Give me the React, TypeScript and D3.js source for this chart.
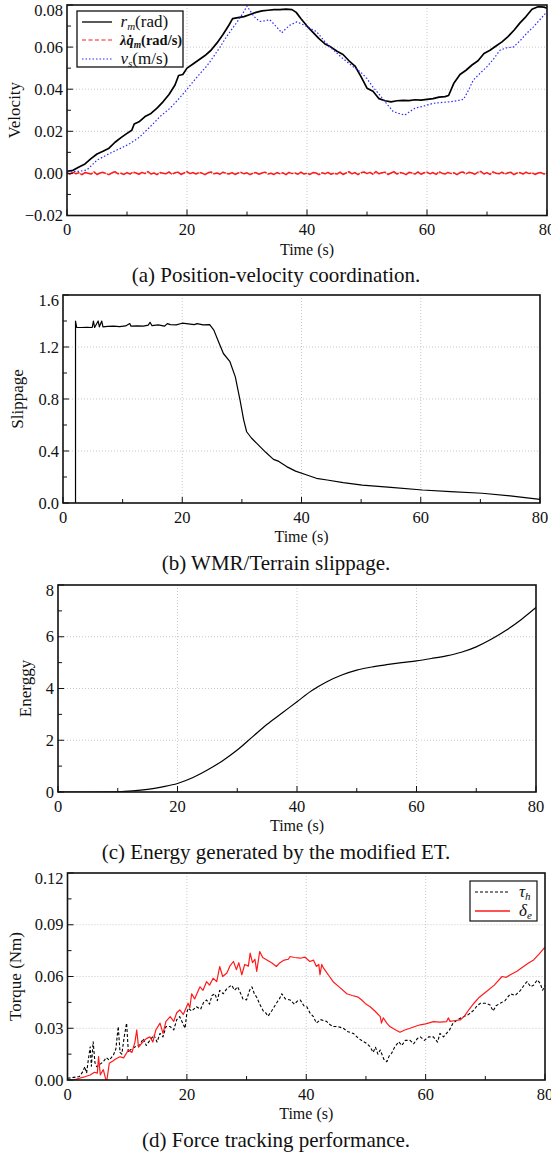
import React from "react";
import * as d3 from "d3";

const FONT = "'Liberation Serif', 'Times New Roman', serif";

// (a) position-velocity coordination, [time, value]
const rmData: [number, number][] = [
  [0, 0.001], [1, 0.0015], [2, 0.003], [3, 0.0045], [4, 0.007], [5, 0.0092], [6, 0.0105], [7, 0.012],
  [8, 0.0148], [9, 0.017], [10, 0.019], [10.8, 0.0205], [11.2, 0.0235], [12, 0.0245], [13, 0.027],
  [14, 0.0285], [15, 0.031], [16, 0.034], [17, 0.0375], [18, 0.042], [18.6, 0.0465], [19.3, 0.047],
  [20, 0.05], [21, 0.052], [22, 0.054], [23, 0.056], [24, 0.0585], [25, 0.062], [26, 0.066], [27, 0.0705],
  [27.6, 0.0735], [28.5, 0.074], [29.5, 0.0745], [30.5, 0.0755], [31.5, 0.0765], [32.5, 0.0772],
  [33.5, 0.0775], [34.5, 0.0778], [35.5, 0.0778], [36.5, 0.078], [37.5, 0.0778], [38.2, 0.0765],
  [39, 0.0735], [40, 0.07], [41, 0.067], [42, 0.064], [43, 0.0615], [44, 0.06], [45, 0.058], [46, 0.0565],
  [47, 0.0535], [48, 0.051], [49, 0.046], [50, 0.0405], [51, 0.039], [52, 0.0355], [53, 0.0345], [54, 0.034],
  [55, 0.0345], [56, 0.0347], [57, 0.0346], [58, 0.035], [59, 0.0348], [60, 0.0352], [61, 0.0355],
  [62, 0.0362], [63, 0.0365], [63.6, 0.037], [64.5, 0.043], [65.5, 0.047], [66.5, 0.049], [67.5, 0.0515],
  [68.5, 0.0535], [69.5, 0.057], [70.5, 0.0585], [71.5, 0.0605], [72.5, 0.0625], [73.5, 0.065],
  [74.5, 0.068], [75.5, 0.0715], [76.5, 0.0745], [77.5, 0.078], [78.5, 0.0792], [79.5, 0.079], [80, 0.0785],
];

const vsData: [number, number][] = [
  [0, 0.0008], [2, 0.001], [3.3, 0.0016], [4, 0.0035], [5, 0.0063], [6, 0.0078], [7, 0.0093], [8, 0.0107],
  [9, 0.012], [10.5, 0.0142], [12, 0.017], [13.3, 0.0206], [14.5, 0.024], [15.5, 0.027], [17.2, 0.031],
  [18.5, 0.035], [19.9, 0.0396], [21, 0.0435], [22.2, 0.0475], [23.3, 0.051], [24.4, 0.0554], [25.5, 0.06],
  [26.6, 0.065], [27.6, 0.069], [28.6, 0.0729], [29.4, 0.0765], [30, 0.0795], [30.8, 0.076], [31.5, 0.0735],
  [32.2, 0.0722], [33, 0.0725], [33.8, 0.073], [34.8, 0.07], [35.8, 0.0668], [36.5, 0.0688], [37.2, 0.0705],
  [38.3, 0.072], [39.5, 0.0705], [40.5, 0.069], [41.6, 0.0673], [43, 0.0625], [44.4, 0.0586], [46, 0.0545],
  [47.7, 0.0507], [49, 0.048], [50, 0.045], [51, 0.041], [52.2, 0.037], [53.3, 0.033], [54.4, 0.0293],
  [55.3, 0.0285], [56.3, 0.0277], [57.2, 0.0295], [58, 0.031], [59.5, 0.032], [61, 0.0333], [62.5, 0.0337],
  [63.8, 0.034], [65, 0.0345], [66.1, 0.0352], [67, 0.04], [67.7, 0.0443], [69, 0.048], [70, 0.0507],
  [71, 0.054], [72.2, 0.0586], [73.3, 0.0597], [74.4, 0.06], [75.5, 0.063], [76.6, 0.0665], [77.7, 0.0695],
  [78.8, 0.073], [80, 0.0768],
];

// sampled every 0.5 s
const qmValues = [
  0.0002, -0.0004, 0.0006, -0.0002, 0.0003, -0.0006, 0.0004, 0.0001, -0.0003, 0.0007,
  -0.0005, 0.0002, 0.0005, -0.0001, -0.0006, 0.0003, 0.0008, -0.0002, 0.0001, -0.0005,
  0.0004, -0.0003, 0.0006, 0.0002, -0.0004, 0.0005, -0.0001, 0.0009, -0.0003, 0.0002,
  -0.0006, 0.0004, 0.0001, -0.0002, 0.0007, -0.0004, 0.0003, 0.0006, -0.0005, 0.0002,
  0.0008, -0.0001, 0.0004, -0.0003, 0.0005, 0.0001, -0.0006, 0.0003, 0.0007, -0.0002,
  0.0002, -0.0004, 0.0006, 0.0, -0.0003, 0.0004, -0.0005, 0.0002, 0.0005, -0.0002,
  0.0003, -0.0006, 0.0001, 0.0004, -0.0004, 0.0002, 0.0006, -0.0003, 0.0001, -0.0005,
  0.0004, -0.0002, 0.0003, -0.0006, 0.0005, -0.0001, 0.0002, -0.0004, 0.0006, -0.0003,
  0.0001, -0.0005, 0.0004, 0.0002, -0.0006, 0.0003, -0.0002, 0.0005, -0.0004, 0.0001,
  -0.0003, 0.0006, -0.0005, 0.0002, 0.0008, -0.0002, 0.0004, -0.0006, 0.0003, 0.0007,
  -0.0001, 0.0005, -0.0004, 0.0009, -0.0002, 0.0003, 0.0006, -0.0005, 0.0002, 0.0008,
  -0.0003, 0.0004, 0.0001, -0.0006, 0.0005, 0.0002, -0.0003, 0.0007, -0.0004, 0.0003,
  0.0006, -0.0002, 0.0004, -0.0005, 0.0008, 0.0001, -0.0003, 0.0005, -0.0001, 0.0003,
  -0.0006, 0.0004, 0.0007, -0.0002, 0.0005, 0.0002, -0.0004, 0.0006, 0.0009, -0.0003,
  0.0004, -0.0005, 0.0007, 0.0001, -0.0002, 0.0006, -0.0004, 0.0003, 0.0005, -0.0006,
  0.0002, 0.0004, -0.0003, 0.0006, -0.0001, 0.0003, -0.0005, 0.0002, 0.0004, -0.0003,
  0.0001,
];
const qmData: [number, number][] = qmValues.map((v, i) => [i * 0.5, v]);

// (b) slippage
const slipData: [number, number][] = [
  [2.1, 0], [2.1, 1.4], [2.3, 1.35], [3, 1.35], [4, 1.352], [4.9, 1.35], [5.1, 1.4], [5.3, 1.35], [5.9, 1.4],
  [6.1, 1.355], [6.5, 1.4], [6.7, 1.355], [7.5, 1.358], [8.5, 1.36], [9.5, 1.357], [10.5, 1.362], [11.2, 1.38],
  [11.4, 1.36], [12.5, 1.363], [13.5, 1.36], [14.3, 1.368], [14.6, 1.39], [14.9, 1.365], [16, 1.37], [17, 1.36],
  [17.5, 1.38], [18, 1.372], [19, 1.37], [20, 1.383], [21, 1.378], [22, 1.372], [22.5, 1.38], [23.5, 1.37],
  [24.6, 1.372], [25.3, 1.33], [26, 1.25], [26.9, 1.15], [28, 1.087], [28.9, 0.97], [29.3, 0.88], [29.7, 0.79],
  [30.3, 0.64], [30.8, 0.548], [31.6, 0.5], [32.5, 0.459], [34, 0.39], [35.3, 0.336], [36.2, 0.32],
  [37.5, 0.28], [39, 0.245], [40.9, 0.215], [42.5, 0.19], [44.3, 0.177], [47, 0.157], [50.2, 0.138],
  [55, 0.12], [60.3, 0.1], [65, 0.088], [70.3, 0.075], [75, 0.055], [80, 0.028],
];

// (c) energy
const energyData: [number, number][] = [
  [0, 0], [5, 0], [10, 0.01], [12.5, 0.04], [15, 0.1], [17.5, 0.2], [20, 0.33], [22.5, 0.55], [25, 0.85],
  [27.5, 1.2], [30, 1.62], [32.5, 2.12], [35, 2.62], [37.5, 3.05], [40, 3.49], [42.5, 3.92], [45, 4.26],
  [47.5, 4.52], [50, 4.71], [52.5, 4.83], [55, 4.92], [57.5, 5.0], [60, 5.07], [62.5, 5.16], [65, 5.26],
  [67.5, 5.4], [70, 5.61], [72.5, 5.9], [75, 6.25], [77.5, 6.66], [80, 7.13],
];

// (d) force tracking
const deltaData: [number, number][] = [
  [0, 0], [1, 0], [2, 0.001], [3, 0.002], [3.8, 0.0029], [4.5, 0.0045], [5, 0.004], [5.2, 0.0135], [5.5, 0.003],
  [6, 0.006], [6.4, 0.0005], [6.6, 0], [7, 0.0097], [7.6, 0.011], [8.2, 0.0125], [8.8, 0.0135], [9.4, 0.0128],
  [10.2, 0.0174], [10.8, 0.016], [11.3, 0.022], [11.6, 0.029], [11.9, 0.019], [12.5, 0.0215], [13.2, 0.024],
  [13.8, 0.025], [14.3, 0.022], [14.8, 0.029], [15.5, 0.033], [16, 0.027], [16.5, 0.034], [17.2, 0.0367],
  [17.8, 0.034], [18.3, 0.039], [18.8, 0.0406], [19.4, 0.038], [20.2, 0.0445], [20.5, 0.042], [20.8, 0.05],
  [21.3, 0.047], [21.8, 0.051], [22.2, 0.054], [22.7, 0.052], [23.3, 0.057], [23.8, 0.055], [24.4, 0.059],
  [25, 0.057], [25.5, 0.0658], [26, 0.06], [26.7, 0.062], [27.2, 0.066], [27.8, 0.0687], [28.3, 0.064],
  [28.7, 0.068], [29.2, 0.061], [29.7, 0.067], [30.3, 0.066], [30.6, 0.0735], [31, 0.068], [31.4, 0.07],
  [31.7, 0.063], [32.2, 0.0745], [32.7, 0.071], [33.4, 0.0696], [34.2, 0.068], [35, 0.0658], [35.6, 0.068],
  [36.3, 0.0695], [37, 0.07], [37.3, 0.0716], [38, 0.071], [39, 0.0706], [39.8, 0.0712], [40.6, 0.0687],
  [41.2, 0.0695], [41.7, 0.0658], [42.1, 0.067], [42.3, 0.061], [42.6, 0.067], [42.9, 0.0648], [43.7, 0.061],
  [44.5, 0.057], [45.5, 0.054], [46.8, 0.05], [47.7, 0.049], [48.7, 0.048], [49.3, 0.0464], [50, 0.044],
  [50.7, 0.0425], [51.5, 0.04], [52.4, 0.0367], [52.6, 0.033], [52.9, 0.036], [53.5, 0.033], [54, 0.031],
  [55, 0.029], [55.7, 0.0277], [56.5, 0.029], [57.4, 0.03], [58.2, 0.031], [59.1, 0.032], [60, 0.0325],
  [61.3, 0.0338], [62.4, 0.0335], [63.5, 0.0338], [63.8, 0.036], [64.1, 0.034], [65, 0.0345], [65.8, 0.0348],
  [66.5, 0.037], [67.3, 0.041], [68.1, 0.0445], [69, 0.048], [70.2, 0.0513], [71.5, 0.055], [72.8, 0.06],
  [73.5, 0.0595], [74.2, 0.061], [75.3, 0.063], [76.4, 0.0658], [77.3, 0.068], [78.1, 0.0696], [79, 0.073],
  [80, 0.077],
];

const tauData: [number, number][] = [
  [0, 0.001], [1, 0.0015], [2, 0.002], [2.6, 0.005], [2.9, 0.0077], [3.2, 0.004], [3.5, 0.012], [3.8, 0.0193],
  [4, 0.008], [4.3, 0.0222], [4.6, 0.01], [4.9, 0.0077], [5.4, 0.009], [6, 0.0106], [6.5, 0.013], [7, 0.0115],
  [7.7, 0.0145], [8.1, 0.018], [8.5, 0.031], [8.8, 0.016], [9.1, 0.015], [9.5, 0.025], [9.9, 0.033],
  [10.2, 0.016], [10.5, 0.0174], [11.2, 0.019], [12.1, 0.0203], [12.7, 0.024], [13.2, 0.02], [13.8, 0.023],
  [14.5, 0.026], [15, 0.022], [15.5, 0.027], [16, 0.025], [16.5, 0.031], [17.2, 0.031], [17.8, 0.029], [18.3, 0.035],
  [18.8, 0.0367], [19.3, 0.033], [19.7, 0.03], [20, 0.039], [20.2, 0.0416], [20.8, 0.04], [21.6, 0.0425],
  [22.3, 0.041], [22.8, 0.045], [23.3, 0.0464], [23.8, 0.044], [24.2, 0.049], [24.7, 0.05], [25.1, 0.046], [25.5, 0.052],
  [26.1, 0.05], [26.7, 0.053], [27.5, 0.055], [28, 0.052], [28.5, 0.054], [28.9, 0.051], [29.4, 0.047],
  [30, 0.0464], [30.5, 0.052], [30.9, 0.054], [31.3, 0.05], [31.7, 0.048], [32.2, 0.044], [32.8, 0.04],
  [33.2, 0.039], [33.6, 0.037], [34.2, 0.04], [35, 0.0445], [35.5, 0.047], [35.9, 0.05], [36.5, 0.047],
  [37.3, 0.0464], [38, 0.044], [38.6, 0.046], [39, 0.0464], [39.6, 0.043], [40.1, 0.0425], [40.6, 0.039],
  [41.2, 0.0367], [41.7, 0.033], [42.4, 0.035], [43.4, 0.034], [44, 0.032], [44.5, 0.031], [45.3, 0.031],
  [46.2, 0.03], [47, 0.028], [47.9, 0.027], [48.8, 0.024], [49.6, 0.0222], [50.2, 0.021], [50.7, 0.0193],
  [51.2, 0.016], [51.6, 0.019], [52, 0.015], [52.4, 0.0174], [53, 0.012], [53.5, 0.0106], [53.9, 0.014],
  [54.3, 0.0155], [54.8, 0.019], [55.5, 0.0222], [56, 0.02], [56.6, 0.023], [57.4, 0.023], [58, 0.021],
  [58.6, 0.024], [59.1, 0.025], [59.8, 0.023], [60.5, 0.025], [61.3, 0.025], [62, 0.022], [62.4, 0.027],
  [63, 0.025], [63.5, 0.027], [64, 0.029], [64.6, 0.033], [65.4, 0.035], [66.3, 0.0367], [67.2, 0.038],
  [68.1, 0.0406], [68.6, 0.043], [69.2, 0.0445], [70, 0.0445], [70.8, 0.0435], [71.3, 0.04], [71.8, 0.043],
  [72.5, 0.0445], [73.3, 0.046], [74.2, 0.05], [75, 0.049], [75.9, 0.052], [76.5, 0.055], [77, 0.057],
  [77.6, 0.054], [78.1, 0.055], [78.7, 0.058], [79.2, 0.056], [79.6, 0.052], [80, 0.055],
];

const xMajor = [0, 20, 40, 60, 80];
const xMinor = [10, 30, 50, 70];

type Series = {
  data: [number, number][];
  color: string;
  width: number;
  dash?: string;
  curve?: d3.CurveFactory;
};

type PanelProps = {
  id: string;
  left: number;
  right: number;
  top: number;
  bottom: number;
  yDomain: [number, number];
  yMajor: number[];
  yMinor: number[];
  fmt: (v: number) => string;
  yLabel: string;
  yLabelX: number;
  caption: string;
  series: Series[];
  children?: React.ReactNode;
};

function Panel(p: PanelProps) {
  const x = d3.scaleLinear().domain([0, 80]).range([p.left, p.right]);
  const y = d3.scaleLinear().domain(p.yDomain).range([p.bottom, p.top]);
  const cy = (p.top + p.bottom) / 2;
  return (
    <g fontFamily={FONT} fill="#111">
      <defs>
        <clipPath id={"clip-" + p.id}>
          <rect x={p.left} y={p.top} width={p.right - p.left} height={p.bottom - p.top} />
        </clipPath>
      </defs>
      {/* grid */}
      {xMajor.slice(1, -1).map((t) => (
        <line key={"gx" + t} x1={x(t)} x2={x(t)} y1={p.top} y2={p.bottom} stroke="#c8c8c8" strokeDasharray="1,2" />
      ))}
      {p.yMajor.slice(1, -1).map((v) => (
        <line key={"gy" + v} x1={p.left} x2={p.right} y1={y(v)} y2={y(v)} stroke="#c8c8c8" strokeDasharray="1,2" />
      ))}
      {/* lines */}
      <g clipPath={`url(#clip-${p.id})`}>
        {p.series.map((s, i) => {
          const line = d3
            .line<[number, number]>()
            .x((d) => x(d[0]))
            .y((d) => y(d[1]))
            .curve(s.curve || d3.curveLinear);
          return (
            <path key={i} d={line(s.data) || ""} fill="none" stroke={s.color} strokeWidth={s.width}
              strokeDasharray={s.dash} strokeLinejoin="round" />
          );
        })}
      </g>
      {/* ticks */}
      {xMajor.map((t) => (
        <line key={"tx" + t} x1={x(t)} x2={x(t)} y1={p.bottom} y2={p.bottom - 6} stroke="#111" />
      ))}
      {xMinor.map((t) => (
        <line key={"mx" + t} x1={x(t)} x2={x(t)} y1={p.bottom} y2={p.bottom - 4} stroke="#111" />
      ))}
      {p.yMajor.map((v) => (
        <line key={"ty" + v} x1={p.left} x2={p.left + 6} y1={y(v)} y2={y(v)} stroke="#111" />
      ))}
      {p.yMinor.map((v) => (
        <line key={"my" + v} x1={p.left} x2={p.left + 4} y1={y(v)} y2={y(v)} stroke="#111" />
      ))}
      <rect x={p.left} y={p.top} width={p.right - p.left} height={p.bottom - p.top} fill="none" stroke="#111" strokeWidth={1.6} />
      {/* tick labels */}
      {xMajor.map((t) => (
        <text key={"lx" + t} x={x(t)} y={p.bottom + 19.5} textAnchor="middle" fontSize={16.5}>{t}</text>
      ))}
      {p.yMajor.map((v) => (
        <text key={"ly" + v} x={p.left - 4} y={Math.max(y(v) + 5.5, p.top + 11)} textAnchor="end" fontSize={16.5}>{p.fmt(v)}</text>
      ))}
      <text x={(p.left + p.right) / 2} y={p.bottom + 39} textAnchor="middle" fontSize={16}>Time (s)</text>
      <text transform={`translate(${p.yLabelX},${cy}) rotate(-90)`} textAnchor="middle" fontSize={17}>{p.yLabel}</text>
      <text x={276} y={p.bottom + 66.5} textAnchor="middle" fontSize={21}>{p.caption}</text>
      {p.children}
    </g>
  );
}

export default function App() {
  return (
    <svg width={551} height={1155} style={{ position: "absolute", left: 0, top: 0, background: "#fff" }}>
      <rect width={551} height={1155} fill="#fff" />
      <Panel id="a" left={67} right={547} top={5} bottom={215.5} yDomain={[-0.02, 0.08]}
        yMajor={[-0.02, 0, 0.02, 0.04, 0.06, 0.08]} yMinor={[-0.01, 0.01, 0.03, 0.05, 0.07]}
        fmt={d3.format(".2f")} yLabel="Velocity" yLabelX={20} caption="(a) Position-velocity coordination."
        series={[
          { data: rmData, color: "#000", width: 1.7 },
          { data: vsData, color: "#2b2bff", width: 1.2, dash: "1.5,2" },
          { data: qmData, color: "#ff1a1a", width: 1.5, dash: "14,1" },
        ]}>
        <g fontFamily={FONT}>
          <rect x={77} y={11} width={106} height={56} fill="#fff" stroke="#111" strokeWidth={1.3} />
          <line x1={82} x2={112} y1={22} y2={22} stroke="#000" strokeWidth={1.3} />
          <line x1={82} x2={112} y1={40} y2={40} stroke="#ff1a1a" strokeWidth={1.2} strokeDasharray="4,2.5" />
          <line x1={82} x2={112} y1={59} y2={59} stroke="#2b2bff" strokeWidth={1.2} strokeDasharray="1.5,2" />
          <text x={120.5} y={27} fontSize={17}>
            <tspan fontStyle="italic">r</tspan>
            <tspan fontStyle="italic" fontSize={11} dy={3}>m</tspan>
            <tspan dy={-3}>(rad)</tspan>
          </text>
          <text x={120} y={45} fontSize={14.5} fontWeight="bold">
            <tspan fontStyle="italic">λq̇</tspan>
            <tspan fontStyle="italic" fontSize={9.5} dy={3}>m</tspan>
            <tspan dy={-3}>(rad/s)</tspan>
          </text>
          <text x={120.5} y={64} fontSize={17}>
            <tspan fontStyle="italic">v</tspan>
            <tspan fontStyle="italic" fontSize={11} dy={3}>s</tspan>
            <tspan dy={-3}>(m/s)</tspan>
          </text>
        </g>
      </Panel>
      <Panel id="b" left={63} right={540} top={295} bottom={503} yDomain={[0, 1.6]}
        yMajor={[0, 0.4, 0.8, 1.2, 1.6]} yMinor={[0.2, 0.6, 1.0, 1.4]}
        fmt={d3.format(".1f")} yLabel="Slippage" yLabelX={23} caption="(b) WMR/Terrain slippage."
        series={[{ data: slipData, color: "#000", width: 1.2 }]} />
      <Panel id="c" left={58} right={536} top={585} bottom={792} yDomain={[0, 8]}
        yMajor={[0, 2, 4, 6, 8]} yMinor={[1, 3, 5, 7]}
        fmt={d3.format("d")} yLabel="Energgy" yLabelX={31} caption="(c) Energy generated by the modified ET."
        series={[{ data: energyData, color: "#000", width: 1.2, curve: d3.curveMonotoneX }]} />
      <Panel id="d" left={67.5} right={545} top={873} bottom={1080} yDomain={[0, 0.12]}
        yMajor={[0, 0.03, 0.06, 0.09, 0.12]} yMinor={[0.015, 0.045, 0.075, 0.105]}
        fmt={d3.format(".2f")} yLabel="Torque (Nm)" yLabelX={21} caption="(d) Force tracking performance."
        series={[
          { data: tauData, color: "#000", width: 1.1, dash: "3,2" },
          { data: deltaData, color: "#ff1a1a", width: 1.2 },
        ]}>
        <g fontFamily={FONT}>
          <rect x={470} y={881} width={67} height={40} fill="#fff" stroke="#111" strokeWidth={1.2} />
          <line x1={475} x2={510} y1={892} y2={892} stroke="#000" strokeWidth={1.1} strokeDasharray="3,2" />
          <line x1={475} x2={510} y1={911} y2={911} stroke="#ff1a1a" strokeWidth={1.3} />
          <text x={519} y={897} fontSize={17}>
            <tspan fontStyle="italic">τ</tspan>
            <tspan fontStyle="italic" fontSize={11} dy={3}>h</tspan>
          </text>
          <text x={519} y={916} fontSize={17}>
            <tspan fontStyle="italic">δ</tspan>
            <tspan fontStyle="italic" fontSize={11} dy={3}>e</tspan>
          </text>
        </g>
      </Panel>
    </svg>
  );
}
